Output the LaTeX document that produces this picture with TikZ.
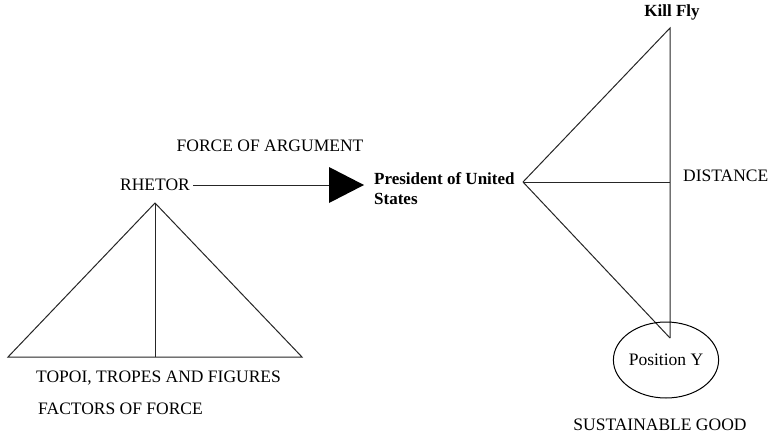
\documentclass[tikz,border=0pt]{standalone}
\usepackage{fontspec}
\setmainfont{Liberation Serif}
\usetikzlibrary{shapes.geometric}
\tikzset{
  lbl/.style={inner sep=0pt, font=\fontsize{17.5}{20}\selectfont},
  boldlbl/.style={lbl, font=\fontsize{17}{20}\selectfont\bfseries},
  edge/.style={line width=1pt, color=black!85}
}

\begin{document}
\begin{tikzpicture}[x=1pt, y=-1pt]
			%%%%% START %%%%%
			\useasboundingbox[fill=white] (0, 0) rectangle (774, 437);
			
			% left triangle
			\coordinate (apexL) at (155, 203);
			\coordinate (baseL) at (8, 357);
			\coordinate (baseR) at (302, 357);
			\coordinate (baseM) at (155, 357);
			\draw[edge] (apexL) -- (baseL) -- (baseR) -- cycle;
			\draw[edge] (apexL) -- (baseM);
			
			\node[lbl] (rhetor) at (155, 185) {RHETOR};
			\node[lbl] (force) at (270, 146) {FORCE OF ARGUMENT};
			\node[lbl, anchor=west] (topoi) at (36, 378) {TOPOI, TROPES AND FIGURES};
			\node[lbl, anchor=west] (factors) at (38, 409) {FACTORS OF FORCE};
			
			% arrow to the president
			\coordinate (tipB) at (329, 185);
			\draw[edge] (rhetor.east) ++(3, 0) -- (tipB);
			\fill (329, 167) -- (364, 185) -- (329, 203) -- cycle;
			
			\node[boldlbl, anchor=north west, align=left] (pres) at (374, 172) {President of United\\States};
			
			% right triangles
			\coordinate (vertP) at (523, 182);
			\coordinate (topK) at (670, 28);
			\coordinate (midD) at (670, 182);
			\coordinate (botY) at (670, 338);
			\draw[edge] (vertP) -- (topK) -- (botY);
			\draw[edge] (vertP) -- (midD);
			\draw[edge] (vertP) -- (botY);
			
			\node[boldlbl] (kill) at (672, 12) {Kill Fly};
			\node[lbl, anchor=west] (dist) at (683, 176) {DISTANCE};
			
			\node[ellipse, draw, line width=1pt, minimum width=102pt, minimum height=76pt, inner sep=0pt,
			  font=\fontsize{17.5}{20}\selectfont] (posY) at (666, 360) {Position Y};
			\node[lbl] (good) at (660, 425) {SUSTAINABLE GOOD};
			
			%%%%% END %%%%%
		\end{tikzpicture}
\end{document}
